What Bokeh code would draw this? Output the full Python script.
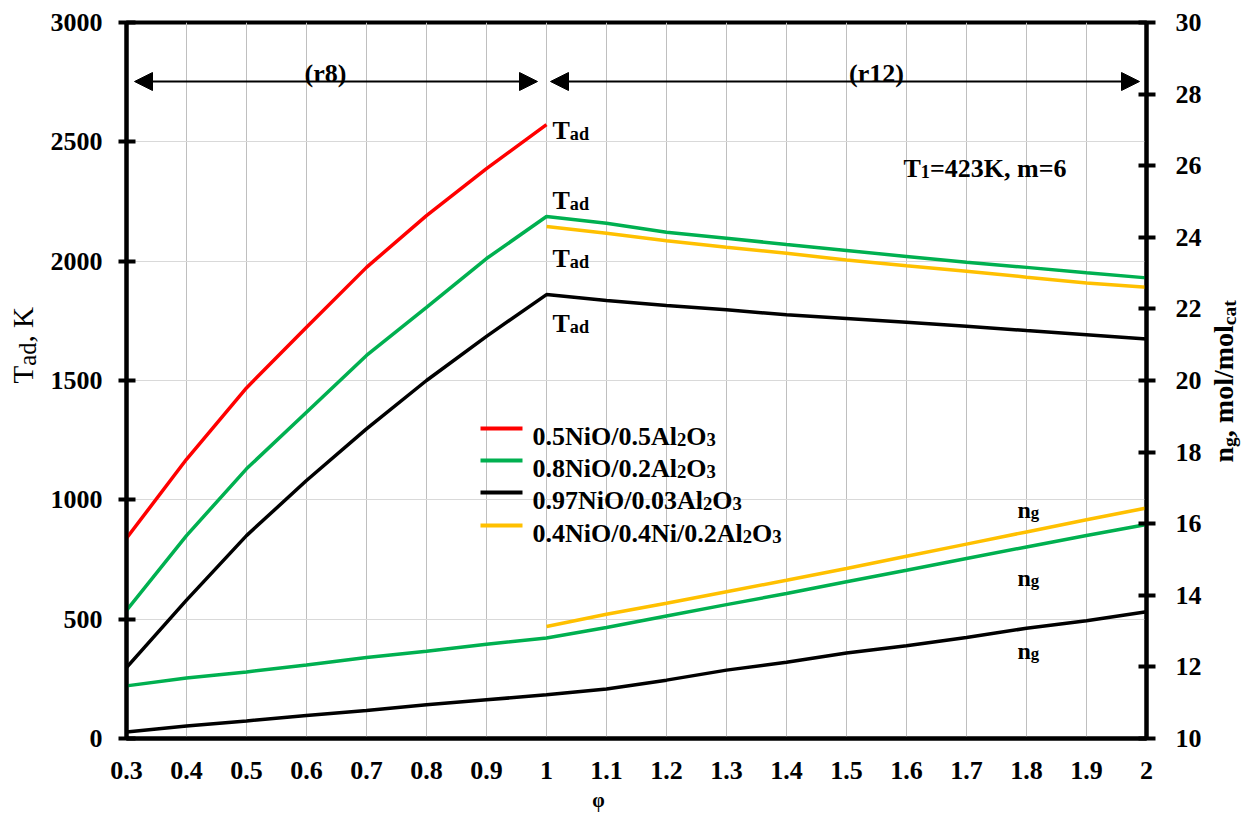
import math
from bokeh.plotting import figure
from bokeh.layouts import row
from bokeh.models import (Range1d, LinearAxis, FixedTicker, Label, Arrow, NormalHead,
                          CustomJSTickFormatter)
from bokeh.embed import file_html
from bokeh.resources import INLINE

# ---------------- data ----------------
phi_r8 = [0.3, 0.4, 0.5, 0.6, 0.7, 0.8, 0.9, 1.0]
phi_r12 = [1.0, 1.1, 1.2, 1.3, 1.4, 1.5, 1.6, 1.7, 1.8, 1.9, 2.0]
phi_all = phi_r8 + phi_r12[1:]

tad_05NiO = [839, 1170, 1469, 1723, 1974, 2191, 2388, 2572]
tad_08NiO = [537, 850, 1130, 1367, 1605, 1806, 2011, 2187, 2159, 2121, 2096, 2070, 2045,
             2020, 1995, 1974, 1951, 1930]
tad_097NiO = [297, 580, 850, 1081, 1297, 1500, 1685, 1860, 1835, 1814, 1796, 1775, 1760,
              1744, 1727, 1709, 1692, 1674]
tad_04NiO = [2145, 2117, 2086, 2058, 2033, 2005, 1981, 1958, 1933, 1909, 1891]

ng_08NiO = [11.47, 11.69, 11.86, 12.05, 12.26, 12.44, 12.63, 12.81, 13.10, 13.42, 13.74,
            14.05, 14.38, 14.70, 15.03, 15.35, 15.67, 15.98]
ng_097NiO = [10.18, 10.35, 10.49, 10.64, 10.78, 10.94, 11.08, 11.22, 11.38, 11.63, 11.91,
             12.13, 12.39, 12.59, 12.82, 13.08, 13.29, 13.54]
ng_04NiO = [13.13, 13.47, 13.78, 14.10, 14.42, 14.75, 15.09, 15.43, 15.77, 16.11, 16.44]

x_ticks = [0.3, 0.4, 0.5, 0.6, 0.7, 0.8, 0.9, 1.0, 1.1, 1.2, 1.3, 1.4, 1.5, 1.6, 1.7, 1.8,
           1.9, 2.0]
tad_ticks = [0, 500, 1000, 1500, 2000, 2500, 3000]
ng_ticks = [10, 12, 14, 16, 18, 20, 22, 24, 26, 28, 30]

legend_names = [
    [("0.5NiO/0.5Al", 0), ("2", 1), ("O", 0), ("3", 1)],
    [("0.8NiO/0.2Al", 0), ("2", 1), ("O", 0), ("3", 1)],
    [("0.97NiO/0.03Al", 0), ("2", 1), ("O", 0), ("3", 1)],
    [("0.4NiO/0.4Ni/0.2Al", 0), ("2", 1), ("O", 0), ("3", 1)],
]

# ---------------- style / layout ----------------
RED, GREEN, BLACK, GOLD = "#ff0000", "#00b050", "#000000", "#ffc000"
FONT = "Liberation Serif"
W, H = 1248, 823
LEFT_W, RIGHT_X = 44, 1208                       # strips holding the y-axis titles
FL, FR, FT, FB = 126, 1146, 22, 738              # plot frame (absolute pixels)
X_MIN, X_MAX, T_MIN, T_MAX, N_MIN, N_MAX = 0.3, 2.0, 0, 3000, 10, 30

p = figure(width=RIGHT_X - LEFT_W, height=H, output_backend="svg", toolbar_location=None,
           x_range=Range1d(X_MIN, X_MAX), y_range=Range1d(T_MIN, T_MAX),
           min_border_left=FL - LEFT_W, min_border_right=RIGHT_X - FR, min_border_top=FT,
           min_border_bottom=H - FB, x_axis_location=None, y_axis_location=None,
           background_fill_color="white", border_fill_color="white")
p.extra_y_ranges = {"ng": Range1d(N_MIN, N_MAX)}
p.outline_line_color = "black"
p.outline_line_width = 4

MAIN = (lambda px: X_MIN + (px - FL) * (X_MAX - X_MIN) / (FR - FL),
        lambda py: T_MIN + (FB - py) * (T_MAX - T_MIN) / (FB - FT))

lab_style = dict(major_label_text_font=FONT, major_label_text_font_size="26px",
                 major_label_text_font_style="bold", major_label_text_color="black",
                 axis_line_color="black", axis_line_width=4, major_tick_line_color="black",
                 major_tick_line_width=4, minor_tick_line_color=None)

xax = LinearAxis(ticker=FixedTicker(ticks=x_ticks), major_tick_in=0, major_tick_out=0,
                 major_label_standoff=23,
                 formatter=CustomJSTickFormatter(code="""
                     const r = Math.round(tick);
                     return Math.abs(tick - r) < 1e-9 ? r.toString() : tick.toFixed(1);"""),
                 **lab_style)
p.add_layout(xax, "below")

# x-axis title "φ": a bare second axis below, with one label at the title's position
phi_title = LinearAxis(ticker=FixedTicker(ticks=[MAIN[0](598)]),
                       formatter=CustomJSTickFormatter(code='return "φ";'),
                       major_tick_in=0, major_tick_out=0, major_label_standoff=7,
                       axis_line_color=None, major_tick_line_color=None,
                       minor_tick_line_color=None, major_label_text_font=FONT,
                       major_label_text_font_size="20px", major_label_text_font_style="bold",
                       major_label_text_color="black")
p.add_layout(phi_title, "below")

yl = LinearAxis(ticker=FixedTicker(ticks=tad_ticks), major_tick_in=9, major_tick_out=8,
                major_label_standoff=16, **lab_style)
p.add_layout(yl, "left")
yr = LinearAxis(y_range_name="ng", ticker=FixedTicker(ticks=ng_ticks), major_tick_in=8,
                major_tick_out=9, major_label_standoff=20, **lab_style)
p.add_layout(yr, "right")

p.xgrid.ticker = FixedTicker(ticks=x_ticks)
p.xgrid.grid_line_color = "#bfbfbf"
p.xgrid.grid_line_width = 1
p.ygrid.ticker = FixedTicker(ticks=tad_ticks)
p.ygrid.grid_line_color = "#d9d9d9"
p.ygrid.grid_line_width = 1

LW = 3.5
p.line(phi_r8, tad_05NiO, color=RED, line_width=LW)
p.line(phi_all, tad_08NiO, color=GREEN, line_width=LW)
p.line(phi_all, tad_097NiO, color=BLACK, line_width=LW)
p.line(phi_r12, tad_04NiO, color=GOLD, line_width=LW)
p.line(phi_all, ng_08NiO, color=GREEN, line_width=LW, y_range_name="ng")
p.line(phi_all, ng_097NiO, color=BLACK, line_width=LW, y_range_name="ng")
p.line(phi_r12, ng_04NiO, color=GOLD, line_width=LW, y_range_name="ng")


def strip(w):
    # the row aligns this strip's frame with the main frame (FT..FB)
    f = figure(width=w, height=H, output_backend="svg", toolbar_location=None,
               x_range=Range1d(0, w), y_range=Range1d(H - FB, H - FT), min_border=0,
               x_axis_location=None, y_axis_location=None,
               background_fill_color="white", border_fill_color="white")
    f.xgrid.visible = False
    f.ygrid.visible = False
    f.outline_line_color = None
    return f


left = strip(LEFT_W)
right = strip(W - RIGHT_X)
LEFT = (lambda px: px, lambda py: H - py)
RIGHT = (lambda px: px - RIGHT_X, lambda py: H - py)

W_BOLD = {"0": .5, "1": .5, "2": .5, "3": .5, "4": .5, "5": .5, "6": .5, "7": .5, "8": .5,
          "9": .5, ".": .25, ",": .25, " ": .25, "/": .278, "(": .333, ")": .333, "=": .57,
          "N": .722, "O": .778, "A": .722, "T": .667, "K": .778, "a": .5, "d": .556,
          "n": .556, "g": .5, "i": .278, "l": .278, "m": .833, "o": .5, "c": .444,
          "t": .333, "r": .444}
W_REG = dict(W_BOLD, T=.611, a=.444, d=.5, K=.722)


def rich(fig, tf, sx, sy, parts, size, bold=True, vertical=False, sub_scale=0.7):
    """Lay text parts (some subscripted) one after another from a baseline point."""
    pos = 0.0
    tbl = W_BOLD if bold else W_REG
    for txt, sub in parts:
        fs = size * sub_scale if sub else size
        drop = size * 0.12 if sub else 0.0
        if vertical:   # reads bottom-to-top; anchor on the middle line of the text
            x, y, ang, base = sx + drop - 0.33 * fs, sy - pos, math.pi / 2, "middle"
        else:
            x, y, ang, base = sx + pos, sy + drop, 0.0, "alphabetic"
        fig.add_layout(Label(x=tf[0](x), y=tf[1](y), text=txt, angle=ang, text_font=FONT,
                             text_font_size=f"{fs:.1f}px",
                             text_font_style="bold" if bold else "normal",
                             text_color="black", text_align="left", text_baseline=base))
        pos += sum(tbl.get(c, .5) for c in txt) * fs


def label(fig, tf, sx, sy, txt, size=26):
    fig.add_layout(Label(x=tf[0](sx), y=tf[1](sy), text=txt, text_font=FONT,
                         text_font_size=f"{size}px", text_font_style="bold",
                         text_color="black", text_align="center",
                         text_baseline="alphabetic"))


# region arrows
for xs, xe, tag, cx in [(134, 537, "(r8)", 325), (550, 1139, "(r12)", 876)]:
    p.add_layout(Arrow(start=NormalHead(size=18, fill_color="black", line_color="black"),
                       end=NormalHead(size=18, fill_color="black", line_color="black"),
                       x_start=MAIN[0](xs), y_start=MAIN[1](81), x_end=MAIN[0](xe),
                       y_end=MAIN[1](81), line_color="black", line_width=2))
    label(p, MAIN, cx, 73, tag)

rich(p, MAIN, 903, 168, [("T", 0), ("1", 1), ("=423K, m=6", 0)], 26)
for by in [130, 200, 258, 323]:
    rich(p, MAIN, 552, by, [("T", 0), ("ad", 1)], 26)
for by in [509, 577, 650]:
    rich(p, MAIN, 1017, by, [("n", 0), ("g", 1)], 24)

# legend
for (ly, name, col) in zip([428, 460, 492, 525], legend_names, [RED, GREEN, BLACK, GOLD]):
    p.segment(x0=[MAIN[0](480)], y0=[MAIN[1](ly)], x1=[MAIN[0](522)], y1=[MAIN[1](ly)],
              line_color=col, line_width=4)
    rich(p, MAIN, 532, ly + 8, name, 26, sub_scale=0.72)

# y-axis titles (rotated, with subscripts)
rich(left, LEFT, 32, 383, [("T", 0), ("ad", 1), (", K", 0)], 29, bold=False,
     vertical=True, sub_scale=0.85)
rich(right, RIGHT, 1232, 462, [("n", 0), ("g", 1), (", mol/mol", 0), ("cat", 1)], 28,
     vertical=True)

layout = row(left, p, right, spacing=0)
open("out.html", "w").write(file_html(layout, INLINE))
